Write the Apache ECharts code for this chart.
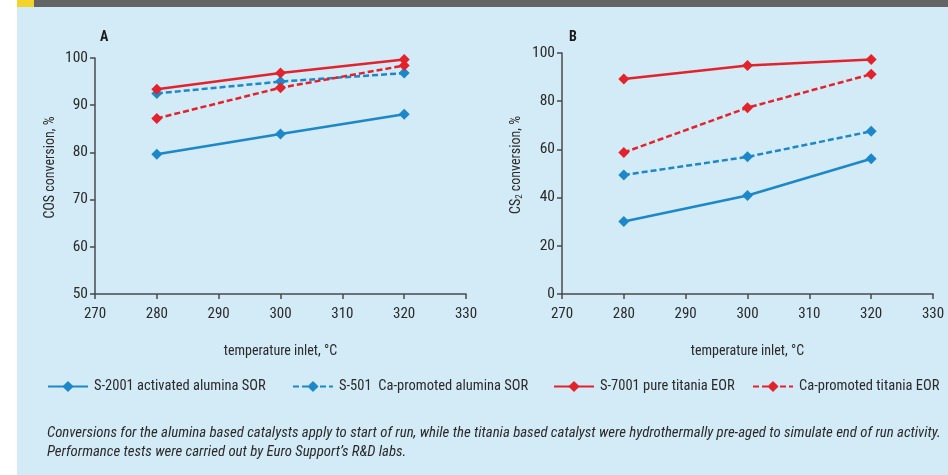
<!DOCTYPE html>
<html>
<head>
<meta charset="utf-8">
<script src="https://cdn.jsdelivr.net/npm/echarts@6/dist/echarts.min.js"></script>
<style>
  html, body { margin: 0; padding: 0; background: #ffffff; }
  #chart { width: 948px; height: 475px; }
</style>
</head>
<body>
<div id="chart"></div>
<script>
// Inlet temperatures (°C) at which conversions were measured
const temperatures = [280, 300, 320];

// Panel A: COS conversion, %
const cosS2001 = [79.6, 83.9, 88.1];
const cosS501 = [92.5, 95.0, 96.8];
const cosS7001 = [93.4, 96.8, 99.7];
const cosCaTitania = [87.2, 93.7, 98.4];

// Panel B: CS2 conversion, %
const cs2S2001 = [30.1, 40.9, 56.1];
const cs2S501 = [49.4, 56.9, 67.5];
const cs2S7001 = [89.2, 94.8, 97.3];
const cs2CaTitania = [58.7, 77.3, 91.2];

const seriesNames = [
  'S-2001 activated alumina SOR',
  'S-501  Ca-promoted alumina SOR',
  'S-7001 pure titania EOR',
  'Ca-promoted titania EOR'
];

const xTicks = { min: 270, max: 330, interval: 10 };
const yTicksA = { min: 50, max: 100, interval: 10 };
const yTicksB = { min: 0, max: 100, interval: 20 };

const captionLines = [
  'Conversions for the alumina based catalysts apply to start of run, while the titania based catalyst were hydrothermally pre-aged to simulate end of run activity.',
  'Performance tests were carried out by Euro Support\u2019s R&D labs.'
];

const BLUE = '#1d88c9';
const RED = '#e3232b';
const AXIS = '#4a4a4a';
const TEXT = '#2a2a2a';
const FONT = "'Roboto Condensed', 'Liberation Sans', Arial, sans-serif";

const styles = [
  { color: BLUE, dash: 'solid' },
  { color: BLUE, dash: [6, 3] },
  { color: RED, dash: 'solid' },
  { color: RED, dash: [6, 3] }
];

function pairs(values) {
  return temperatures.map((t, i) => [t, values[i]]);
}

function makeSeries(name, values, style, gridIndex) {
  return {
    type: 'line',
    name: name,
    xAxisIndex: gridIndex,
    yAxisIndex: gridIndex,
    data: pairs(values),
    symbol: 'diamond',
    symbolSize: 11,
    showSymbol: true,
    lineStyle: { color: style.color, width: 2.5, type: style.dash },
    itemStyle: { color: style.color },
    emphasis: { disabled: true },
    animation: false
  };
}

const groupA = [cosS2001, cosS501, cosS7001, cosCaTitania];
const groupB = [cs2S2001, cs2S501, cs2S7001, cs2CaTitania];

const series = [];
groupA.forEach((v, i) => series.push(makeSeries(seriesNames[i], v, styles[i], 0)));
groupB.forEach((v, i) => series.push(makeSeries(seriesNames[i], v, styles[i], 1)));

function xAxis(gridIndex) {
  return {
    type: 'value',
    gridIndex: gridIndex,
    min: xTicks.min,
    max: xTicks.max,
    interval: xTicks.interval,
    name: 'temperature inlet, \u00b0C',
    nameLocation: 'middle',
    nameGap: 50,
    nameTextStyle: { color: TEXT, fontSize: 14, fontFamily: FONT },
    axisLine: { lineStyle: { color: AXIS, width: 1.5 } },
    axisTick: { show: true, length: 5, lineStyle: { color: AXIS, width: 1.5 } },
    axisLabel: { color: TEXT, fontSize: 15, fontFamily: FONT, margin: 13 },
    splitLine: { show: false }
  };
}

function yAxis(gridIndex, ticks, name, rich) {
  return {
    type: 'value',
    gridIndex: gridIndex,
    min: ticks.min,
    max: ticks.max,
    interval: ticks.interval,
    name: name,
    nameLocation: 'middle',
    nameGap: 38,
    nameRotate: 90,
    nameTextStyle: { color: TEXT, fontSize: 14, fontFamily: FONT, rich: rich, padding: [0, 0, 0, 17] },
    axisLine: { show: true, lineStyle: { color: AXIS, width: 1.5 } },
    axisTick: { show: true, length: 5, lineStyle: { color: AXIS, width: 1.5 } },
    axisLabel: { color: TEXT, fontSize: 15.5, fontFamily: FONT, margin: 7 },
    splitLine: { show: false }
  };
}

const legendLefts = [47, 292, 553, 752];
const legends = seriesNames.map((n, i) => ({
  data: [n],
  left: legendLefts[i],
  top: 379,
  padding: 0,
  orient: 'horizontal',
  itemWidth: 40,
  itemHeight: 14,
  itemGap: 0,
  selectedMode: false,
  textStyle: { color: TEXT, fontSize: 14.5, fontFamily: FONT, padding: [0, 0, 0, 1] }
}));

const option = {
  backgroundColor: '#ffffff',
  animation: false,
  textStyle: { fontFamily: FONT },
  graphic: [
    { type: 'rect', z: -10, silent: true, shape: { x: 17, y: 0, width: 931, height: 475 }, style: { fill: '#d3eaf7' } },
    { type: 'rect', z: -9, silent: true, shape: { x: 17, y: 0, width: 931, height: 7 }, style: { fill: '#646464' } },
    { type: 'rect', z: -8, silent: true, shape: { x: 17, y: 0, width: 17, height: 7 }, style: { fill: '#f3d22a' } },
    { type: 'text', left: 100, top: 30, style: { text: 'A', font: "bold 14px " + FONT, fill: '#1a1a1a' } },
    { type: 'text', left: 569, top: 30, style: { text: 'B', font: "bold 14px " + FONT, fill: '#1a1a1a' } },
    { type: 'text', left: 47, top: 426, style: { text: captionLines[0], font: "italic 14.8px " + FONT, fill: TEXT } },
    { type: 'text', left: 47, top: 445, style: { text: captionLines[1], font: "italic 14.8px " + FONT, fill: TEXT } }
  ],
  legend: legends,
  grid: [
    { left: 95, right: 482, top: 58, bottom: 181, containLabel: false },
    { left: 562, right: 15, top: 53, bottom: 181, containLabel: false }
  ],
  xAxis: [xAxis(0), xAxis(1)],
  yAxis: [
    yAxis(0, yTicksA, 'COS conversion, %', {}),
    yAxis(1, yTicksB, 'CS{sub|2} conversion, %', {
      sub: { fontSize: 9, fontFamily: FONT, color: TEXT, verticalAlign: 'bottom', padding: [6, 0, 0, 0] }
    })
  ],
  series: series
};

const chart = echarts.init(document.getElementById('chart'), null, { renderer: 'canvas' });
chart.setOption(option);
</script>
</body>
</html>
